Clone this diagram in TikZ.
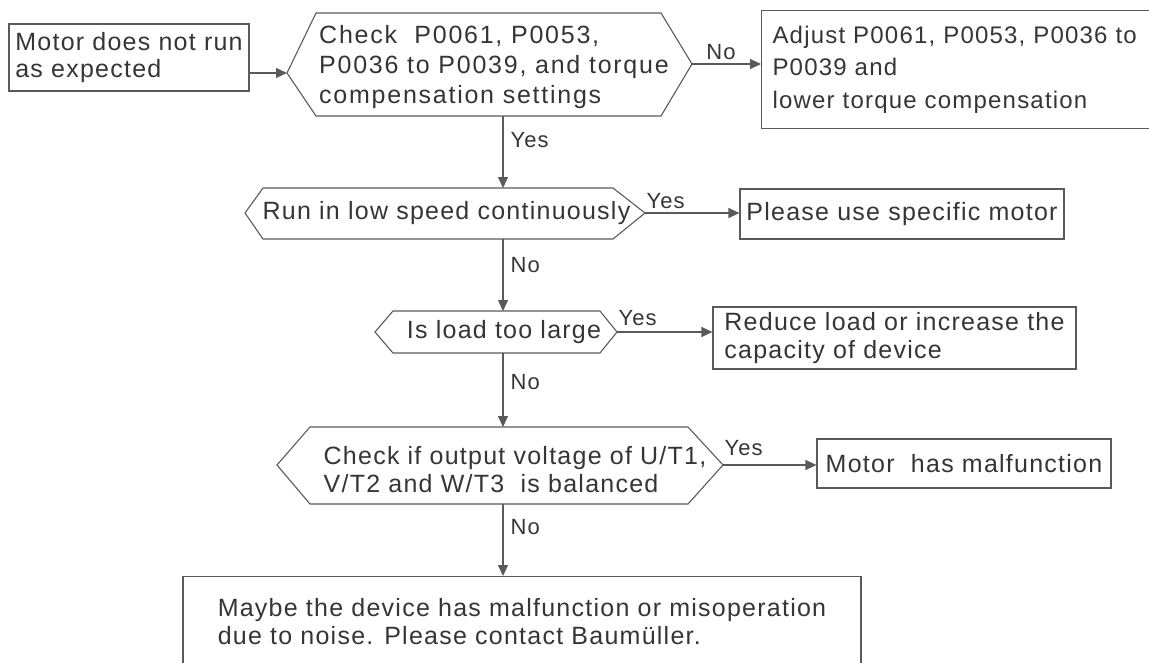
\documentclass[tikz,border=0pt]{standalone}
\usepackage{fontspec}
\setmainfont{Liberation Sans}
\newfontfamily\flowfont[LetterSpace=5]{Liberation Sans}
\newfontfamily\wideflowfont[LetterSpace=7]{Liberation Sans}
\usetikzlibrary{arrows.meta,positioning}

\definecolor{inkgray}{HTML}{353535}
\definecolor{linegray}{HTML}{5A5A5A}

\tikzset{
  every node/.style={text=inkgray},
  box/.style={draw=linegray, line width=1.1pt, align=left, inner sep=0pt, font=\flowfont\fontsize{25}{29}\selectfont},
  hexline/.style={draw=linegray, line width=1.1pt},
  hextext/.style={align=left, inner sep=0pt, font=\flowfont\fontsize{25}{29}\selectfont},
  link/.style={draw=linegray, line width=1.1pt},
  arr/.style={link, -{Triangle[length=11pt,width=10pt]}},
  lbl/.style={inner sep=0pt, font=\flowfont\fontsize{22}{26}\selectfont},
  vlbl/.style={lbl, anchor=west, xshift=7pt},
  hlbl/.style={lbl, pos=0, anchor=base west, xshift=1pt}
}

\begin{document}
\begin{tikzpicture}[x=1pt,y=-1pt]
 \useasboundingbox (0,0) rectangle (1149,662);
 \clip (0,0) rectangle (1149,662);

 \coordinate (spine) at (503,0);

 % boxes
 \node (motor) [box, minimum width=240pt, minimum height=67pt, font=\flowfont\fontsize{25}{27}\selectfont] at (129,57.5) {Motor does not run\\as expected};
 \node (adj) [box, anchor=north west, text width=420pt, inner xsep=11pt, minimum height=118pt, font=\flowfont\fontsize{24}{32.5}\selectfont] at (761,10) {Adjust P0061, P0053, P0036 to\\P0039 and\\lower torque compensation};
 \node (spec) [box, minimum width=324pt, minimum height=50pt] at (902,214) {Please use specific motor};
 \node (reduce) [box, minimum width=363pt, minimum height=62pt, font=\flowfont\fontsize{25}{28}\selectfont] at (894.5,338) {Reduce load or increase the\\capacity of device};
 \node (fault) [box, minimum width=294pt, minimum height=49pt] at (964,463.5) {Motor\ \ has malfunction};
 \node (noise) [box, anchor=north, minimum width=678pt, inner ysep=22pt, font=\flowfont\fontsize{25}{27.5}\selectfont] at (522,576) {Maybe the device has malfunction or misoperation\\due to noise. Please contact Baumüller.};

 % decisions
 \node (check) [hextext, font=\wideflowfont\fontsize{25}{30}\selectfont] at (494,67) {Check\ \ P0061, P0053,\\P0036 to P0039, and torque\\compensation settings};
 \draw[hexline] (287,73) coordinate (checkL) -- (316,13) -- (661,13) -- (692,64) coordinate (checkR) -- (661,116) -- (316,116) -- cycle;
 \coordinate (checkS) at (spine |- 0,116);

 \node (slow) [hextext] at (446.5,213) {Run in low speed continuously};
 \draw[hexline] (245,213) -- (263,188) -- (613,188) -- (645,213) coordinate (slowR) -- (613,239) -- (263,239) -- cycle;
 \coordinate (slowN) at (spine |- 0,188);
 \coordinate (slowS) at (spine |- 0,239);

 \node (load) [hextext] at (504,332) {Is load too large};
 \draw[hexline] (375,332) -- (393,311) -- (600,311) -- (617,332) coordinate (loadR) -- (600,353) -- (393,353) -- cycle;
 \coordinate (loadN) at (spine |- 0,311);
 \coordinate (loadS) at (spine |- 0,353);

 \node (volt) [hextext, font=\flowfont\fontsize{25}{28}\selectfont] at (515,470) {Check if output voltage of U/T1,\\V/T2 and W/T3\ \ is balanced};
 \draw[hexline] (277,465) -- (310,427) -- (688,427) -- (723,465) coordinate (voltR) -- (688,504) -- (310,504) -- cycle;
 \coordinate (voltN) at (spine |- 0,427);
 \coordinate (voltS) at (spine |- 0,504);

 % connectors
 \draw[arr] (motor.east |- checkL) -- (checkL);
 \draw[arr] (checkR) -- node[lbl, pos=0.42, above, yshift=4pt] {No} (adj.west |- checkR);
 \draw[arr] (checkS) -- node[vlbl, pos=0.33] {Yes} (slowN);
 \draw[arr] (slowR) -- node[hlbl, yshift=5pt] {Yes} (spec.west |- slowR);
 \draw[arr] (slowS) -- node[vlbl, pos=0.36] {No} (loadN);
 \draw[arr] (loadR) -- node[hlbl, yshift=7pt] {Yes} (reduce.west |- loadR);
 \draw[arr] (loadS) -- node[vlbl, pos=0.39] {No} (voltN);
 \draw[arr] (voltR) -- node[hlbl, yshift=10pt] {Yes} (fault.west |- voltR);
 \draw[arr] (voltS) -- node[vlbl, pos=0.32] {No} (noise.north -| voltS);
\end{tikzpicture}
\end{document}
